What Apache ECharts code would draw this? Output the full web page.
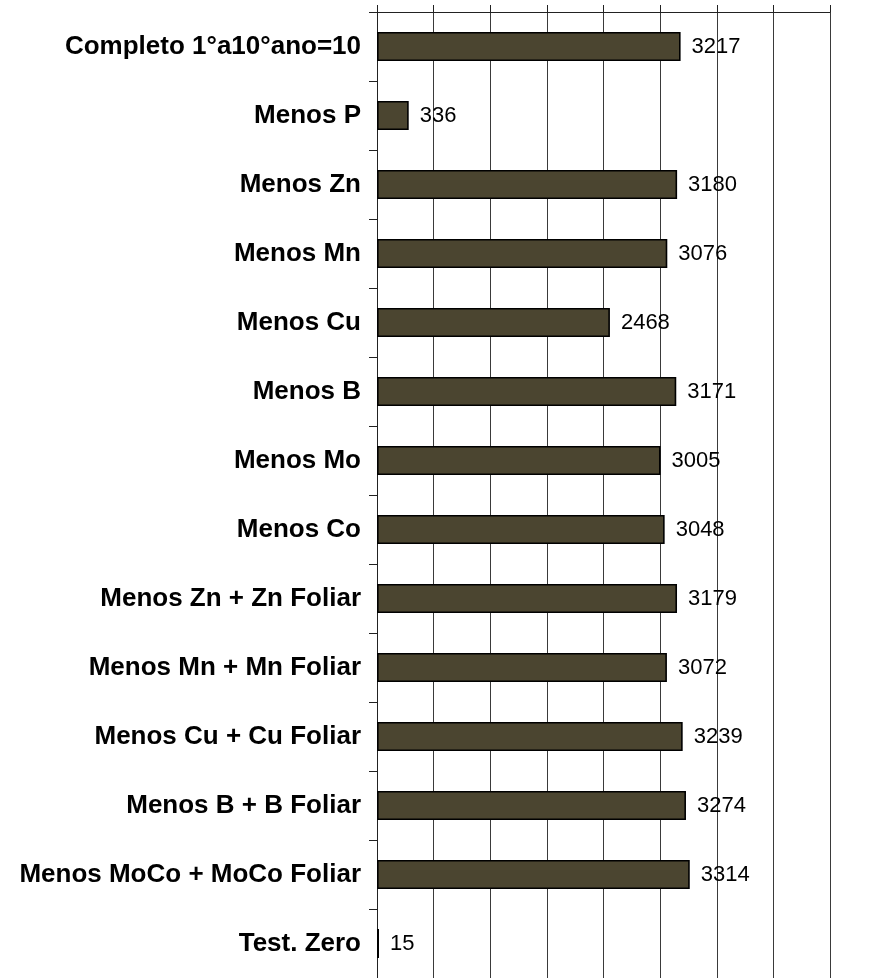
<!DOCTYPE html>
<html>
<head>
<meta charset="utf-8">
<script src="https://cdn.jsdelivr.net/npm/echarts@6/dist/echarts.min.js"></script>
<style>
  html, body { margin: 0; padding: 0; background: #fff; }
  #chart { width: 877px; height: 978px; }
</style>
</head>
<body>
<div id="chart"></div>
<script>
const categories = [
    'Completo 1°a10°ano=10',
    'Menos P',
    'Menos Zn',
    'Menos Mn',
    'Menos Cu',
    'Menos B',
    'Menos Mo',
    'Menos Co',
    'Menos Zn + Zn Foliar',
    'Menos Mn + Mn Foliar',
    'Menos Cu + Cu Foliar',
    'Menos B + B Foliar',
    'Menos MoCo + MoCo Foliar',
    'Test. Zero'
]
const values = [3217, 336, 3180, 3076, 2468, 3171, 3005, 3048, 3179, 3072, 3239, 3274, 3314, 15]

var chart = echarts.init(document.getElementById('chart'))
var option = {
    animation: false,
    textStyle: { fontFamily: 'Liberation Sans, Arial, sans-serif' },
    grid: { left: 377, right: 47, top: 12, bottom: 0 },
    xAxis: {
        type: 'value',
        position: 'top',
        min: 0,
        max: 4800,
        interval: 600,
        axisLine: { show: true, lineStyle: { color: '#222', width: 1 } },
        axisTick: { show: true, length: 7, lineStyle: { color: '#222' } },
        axisLabel: { show: false },
        splitLine: { show: true, lineStyle: { color: '#3a3a3a', width: 1 } }
    },
    yAxis: {
        type: 'category',
        inverse: true,
        data: categories,
        axisLine: { show: true, lineStyle: { color: '#222', width: 1 } },
        axisTick: { show: true, length: 8, lineStyle: { color: '#222' } },
        axisLabel: {
            margin: 16,
            color: '#000',
            fontSize: 26,
            fontWeight: 'bold',
            fontFamily: 'Liberation Sans, Arial, sans-serif'
        }
    },
    series: [
        {
            type: 'bar',
            data: values,
            barWidth: 29,
            barMinHeight: 2,
            itemStyle: { color: '#4b4530', borderColor: '#000', borderWidth: 1.6 },
            label: {
                show: true,
                position: 'right',
                distance: 11,
                color: '#000',
                fontSize: 22,
                fontFamily: 'Liberation Sans, Arial, sans-serif'
            }
        }
    ]
}
chart.setOption(option)
</script>
</body>
</html>
